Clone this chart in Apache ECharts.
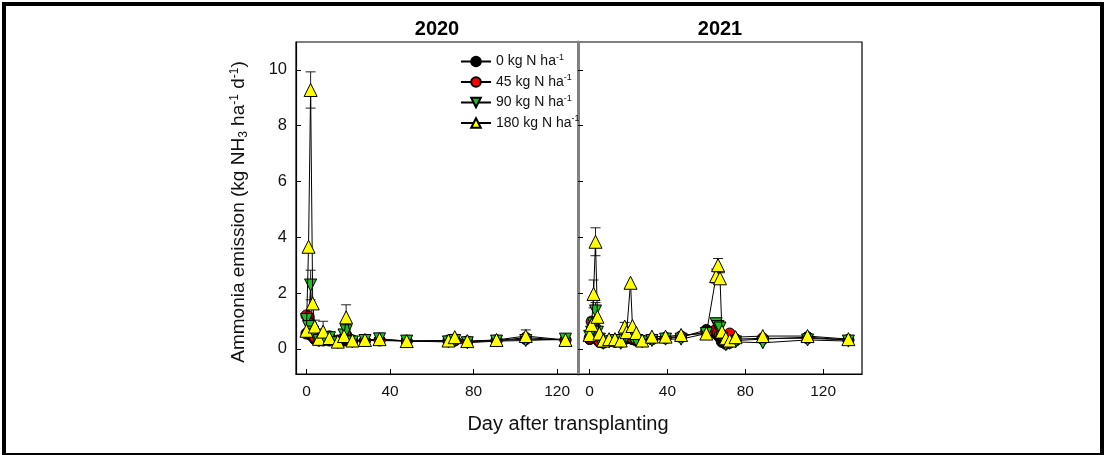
<!DOCTYPE html>
<html>
<head>
<meta charset="utf-8">
<script src="https://cdn.jsdelivr.net/npm/echarts@6/dist/echarts.min.js"></script>
<style>html,body{margin:0;padding:0;background:#fff;}#c{width:1104px;height:455px;}</style>
</head>
<body>
<div id="c"></div>
<script>
// ---------- DATA ----------
var seriesNames = ['0 kg N ha', '45 kg N ha', '90 kg N ha', '180 kg N ha'];
var yTicks = [0, 2, 4, 6, 8, 10];
var xTicks = [0, 40, 80, 120];

// 2020
var days2020 = [0, 1, 2, 3, 4, 6, 8, 11, 15, 18, 19, 22, 28, 35, 48, 68, 71, 77, 91, 105, 124];
var n0_2020   = [0.55, 0.60, 0.50, 0.45, 0.35, 0.30, 0.30, 0.30, 0.25, 0.30, 0.35, 0.30, 0.30, 0.32, 0.28, 0.30, 0.30, 0.26, 0.30, 0.35, 0.32];
var n45_2020  = [1.20, 1.15, 0.90, 0.60, 0.45, 0.35, 0.40, 0.45, 0.30, 0.40, 0.50, 0.30, 0.30, 0.30, 0.28, 0.28, 0.32, 0.26, 0.30, 0.40, 0.32];
var n90_2020  = [1.05, 0.80, 2.29, 0.60, 0.50, 0.30, 0.35, 0.40, 0.22, 0.50, 0.65, 0.25, 0.30, 0.36, 0.28, 0.25, 0.30, 0.22, 0.28, 0.30, 0.35];
var n180_2020 = [0.65, 3.66, 9.28, 1.63, 0.80, 0.36, 0.62, 0.39, 0.26, 0.46, 1.13, 0.30, 0.32, 0.35, 0.28, 0.30, 0.42, 0.28, 0.32, 0.46, 0.32];
var e90_2020  = [0, 0, 0.53, 0, 0, 0, 0, 0, 0, 0, 0.12, 0, 0, 0, 0, 0, 0, 0, 0, 0, 0];
var e180_2020 = [0, 0, 0.65, 0, 0.23, 0, 0.37, 0, 0, 0, 0.45, 0, 0, 0, 0, 0, 0.10, 0, 0, 0.22, 0];

// 2021
var days2021 = [0, 1, 2, 3, 4, 5, 7, 10, 13, 16, 18, 19, 21, 22, 24, 27, 32, 39, 47, 60, 65, 66, 67, 68, 70, 72, 75, 89, 112, 133];
var n0_2021   = [0.35, 0.40, 0.45, 0.40, 0.35, 0.25, 0.22, 0.28, 0.30, 0.25, 0.35, 0.40, 0.38, 0.35, 0.30, 0.28, 0.35, 0.38, 0.42, 0.68, 0.55, 0.50, 0.40, 0.25, 0.18, 0.22, 0.30, 0.35, 0.42, 0.32];
var n45_2021  = [0.40, 0.98, 0.85, 0.75, 0.50, 0.30, 0.25, 0.30, 0.25, 0.30, 0.50, 0.55, 0.50, 0.40, 0.35, 0.30, 0.35, 0.40, 0.45, 0.60, 0.70, 0.60, 0.55, 0.50, 0.40, 0.55, 0.35, 0.38, 0.38, 0.32];
var n90_2021  = [0.45, 0.60, 0.90, 1.36, 0.60, 0.35, 0.20, 0.25, 0.30, 0.20, 0.40, 0.45, 0.50, 0.40, 0.30, 0.25, 0.30, 0.35, 0.35, 0.55, 0.90, 0.80, 0.75, 0.40, 0.15, 0.20, 0.25, 0.22, 0.32, 0.28];
var n180_2021 = [0.50, 0.86, 1.97, 3.84, 1.15, 0.55, 0.30, 0.35, 0.35, 0.30, 0.80, 0.60, 2.37, 0.82, 0.57, 0.30, 0.44, 0.44, 0.50, 0.55, 2.61, 3.00, 2.53, 0.62, 0.38, 0.30, 0.42, 0.46, 0.46, 0.35];
var e90_2021  = [0, 0, 0, 0.30, 0, 0, 0, 0, 0, 0, 0, 0, 0, 0, 0, 0, 0, 0, 0, 0, 0.20, 0, 0, 0, 0, 0, 0, 0, 0, 0];
var e180_2021 = [0, 0, 0.50, 0.50, 0, 0, 0, 0, 0, 0, 0.15, 0.15, 0, 0, 0, 0, 0, 0, 0, 0, 0.25, 0.24, 0.20, 0, 0, 0, 0, 0, 0, 0];

// ---------- BUILD ----------
var colors = ['#000000', '#ff0000', '#1fbf1f', '#ffff00'];
var symbols = ['circle', 'circle', 'triangle', 'triangle'];
var rotates = [0, 0, 180, 0];
var sizes = [11, 11, 12, 13];

function pairs(days, vals) { return days.map(function (d, i) { return [d, vals[i]]; }); }
function errs(days, vals, e) {
  var out = [];
  days.forEach(function (d, i) { if (e[i] > 0) out.push([d, vals[i], e[i]]); });
  return out;
}
function errorSeries(data, idx) {
  return {
    type: 'custom', xAxisIndex: idx, yAxisIndex: idx, z: 3, silent: true,
    data: data,
    renderItem: function (params, api) {
      var x = api.value(0), y = api.value(1), e = api.value(2);
      var top = api.coord([x, y + e]);
      var bot = api.coord([x, y - e]);
      var w = 5;
      var st = { stroke: '#222', lineWidth: 1 };
      return { type: 'group', children: [
        { type: 'line', shape: { x1: top[0], y1: top[1], x2: bot[0], y2: bot[1] }, style: st },
        { type: 'line', shape: { x1: top[0] - w, y1: top[1], x2: top[0] + w, y2: top[1] }, style: st },
        { type: 'line', shape: { x1: bot[0] - w, y1: bot[1], x2: bot[0] + w, y2: bot[1] }, style: st }
      ]};
    }
  };
}
function lineSeries(k, data, idx) {
  return {
    name: seriesNames[k], type: 'line', xAxisIndex: idx, yAxisIndex: idx,
    data: data, symbol: symbols[k], symbolRotate: rotates[k], symbolSize: sizes[k],
    showAllSymbol: true, z: 4 + k, animation: false,
    lineStyle: { color: '#000', width: 1 },
    itemStyle: { color: colors[k], borderColor: '#000', borderWidth: 1 }
  };
}

var vals2020 = [n0_2020, n45_2020, n90_2020, n180_2020];
var vals2021 = [n0_2021, n45_2021, n90_2021, n180_2021];
var series = [];
series.push(errorSeries(errs(days2020, n90_2020, e90_2020), 0));
series.push(errorSeries(errs(days2020, n180_2020, e180_2020), 0));
series.push(errorSeries(errs(days2021, n90_2021, e90_2021), 1));
series.push(errorSeries(errs(days2021, n180_2021, e180_2021), 1));
for (var k = 0; k < 4; k++) {
  series.push(lineSeries(k, pairs(days2020, vals2020[k]), 0));
  series.push(lineSeries(k, pairs(days2021, vals2021[k]), 1));
}

var FONT = 'Liberation Sans, Arial, sans-serif';
function xAxisCfg(idx, max, min) {
  return {
    type: 'value', gridIndex: idx, min: min, max: max,
    axisLine: { show: true, onZero: false, lineStyle: { color: '#000', width: 1.2 } },
    axisTick: { show: true, inside: true, length: 5, customValues: xTicks, lineStyle: { color: '#000' } },
    axisLabel: { show: true, customValues: xTicks, margin: 10, fontSize: 15.5, color: '#111', fontFamily: FONT },
    splitLine: { show: false }
  };
}
function yAxisCfg(idx, showLabel, lineColor, lineWidth) {
  return {
    type: 'value', gridIndex: idx, min: -0.9, max: 11,
    axisLine: { show: true, onZero: false, lineStyle: { color: lineColor, width: lineWidth } },
    axisTick: { show: true, inside: true, length: 5, customValues: yTicks, lineStyle: { color: '#000' } },
    axisLabel: { show: showLabel, customValues: yTicks, margin: 9, fontSize: 16.5, color: '#111', fontFamily: FONT },
    splitLine: { show: false }
  };
}

var option = {
  animation: false,
  backgroundColor: '#fff',
  grid: [
    { left: 296, top: 42, width: 282, height: 332, show: true, borderColor: '#000', borderWidth: 1.2, containLabel: false },
    { left: 578, top: 42, width: 284, height: 332, show: true, borderColor: '#000', borderWidth: 1.2, containLabel: false }
  ],
  xAxis: [xAxisCfg(0, 130, -5), xAxisCfg(1, 140, -6)],
  yAxis: [yAxisCfg(0, true, '#000', 1.2), yAxisCfg(1, false, '#808080', 3)],
  legend: {
    orient: 'vertical', left: 455, top: 48, itemWidth: 30, itemHeight: 12, itemGap: 5,
    data: seriesNames,
    formatter: function (n) { return '{a|' + n + '}{s|-1}'; },
    textStyle: {
      fontFamily: FONT, fontSize: 14, color: '#111',
      rich: { a: { fontFamily: FONT, fontSize: 14, color: '#111' },
              s: { fontFamily: FONT, fontSize: 9, color: '#111', verticalAlign: 'top', padding: [0, 0, 8, 0] } }
    },
    selectedMode: false
  },
  graphic: [
    { type: 'rect', shape: { x: 4, y: 4, width: 1098, height: 451 }, style: { fill: 'none', stroke: '#000', lineWidth: 4 }, silent: true },
    { type: 'text', x: 437, y: 29, style: { text: '2020', font: 'bold 20px ' + FONT, fill: '#000', textAlign: 'center', textVerticalAlign: 'middle' } },
    { type: 'text', x: 720, y: 29, style: { text: '2021', font: 'bold 20px ' + FONT, fill: '#000', textAlign: 'center', textVerticalAlign: 'middle' } },
    { type: 'text', x: 568, y: 424, style: { text: 'Day after transplanting', font: '20px ' + FONT, fill: '#111', textAlign: 'center', textVerticalAlign: 'middle' } },
    { type: 'text', x: 239, y: 212, rotation: Math.PI / 2,
      style: {
        text: '{a|Ammonia emission (kg NH}{b|3}{a| ha}{c|-1}{a| d}{c|-1}{a|)}',
        textAlign: 'center', textVerticalAlign: 'middle',
        rich: {
          a: { fontFamily: FONT, fontSize: 19, fill: '#111', lineHeight: 24 },
          b: { fontFamily: FONT, fontSize: 12, fill: '#111', padding: [9, 0, 0, 0], lineHeight: 24 },
          c: { fontFamily: FONT, fontSize: 12, fill: '#111', padding: [0, 0, 9, 0], lineHeight: 24 }
        }
      }
    }
  ],
  series: series
};
var chart = echarts.init(document.getElementById('c'));
chart.setOption(option);
</script>
</body>
</html>
